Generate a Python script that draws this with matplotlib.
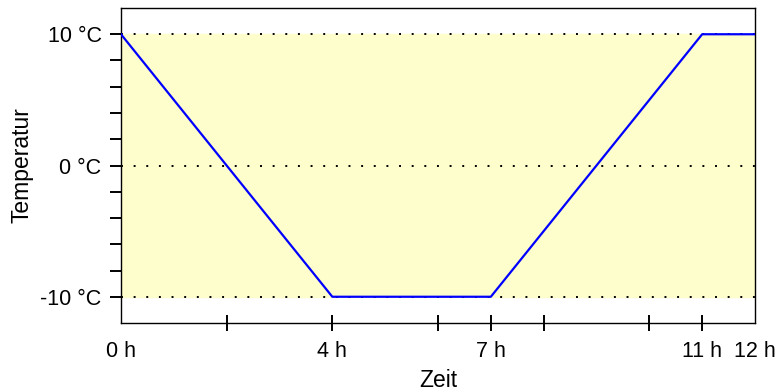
import matplotlib.pyplot as plt

plt.rcParams['font.family'] = ['Liberation Sans', 'DejaVu Sans']

# data: temperature profile over time
hours = [0, 4, 7, 11, 12]
temps = [10, -10, -10, 10, 10]

# tick setup
x_marks = [2, 4, 6, 7, 8, 10, 11]
x_mark_labels = ['', '4 h', '', '7 h', '', '', '11 h']
x_edge = [0, 12]
x_edge_labels = ['0 h', '12 h']
y_marks = [-10, -8, -6, -4, -2, 0, 2, 4, 6, 8, 10]
y_mark_labels = ['-10 °C', '', '', '', '', '0 °C', '', '', '', '', '10 °C']
grid_levels = [-10, 0, 10]

fig = plt.figure(figsize=(7.79, 3.92), dpi=100)
ax = fig.add_axes([0.1553, 0.176, 0.9692 - 0.1553, 0.9796 - 0.176])

# yellow band between -10 and 10
ax.axhspan(-10, 10, color='#fefdcc', zorder=0)
for g in grid_levels:
    ax.axhline(g, color='black', linestyle=(0, (1, 5.5)), linewidth=1.4, zorder=1)

ax.plot(hours, temps, color='#0000ff', linewidth=1.6, zorder=3)

ax.set_xlim(0, 12)
ax.set_ylim(-12, 12)

ax.set_xticks(x_marks, labels=x_mark_labels)
ax.set_xticks(x_edge, labels=x_edge_labels, minor=True)
ax.tick_params(axis='x', which='major', direction='inout', length=11.5, width=1.4,
               labelsize=15.5, pad=7)
ax.tick_params(axis='x', which='minor', length=0, labelsize=15.5, pad=12.8)

ax.set_yticks(y_marks, labels=y_mark_labels)
ax.tick_params(axis='y', direction='out', length=8, width=1.4, labelsize=15.5, pad=6)

for s in ax.spines.values():
    s.set_linewidth(1.0)

ax.set_xlabel('Zeit', fontsize=16.5, labelpad=5)
ax.set_ylabel('Temperatur', fontsize=16.5, labelpad=5)

fig.savefig('out.png', dpi=100)
